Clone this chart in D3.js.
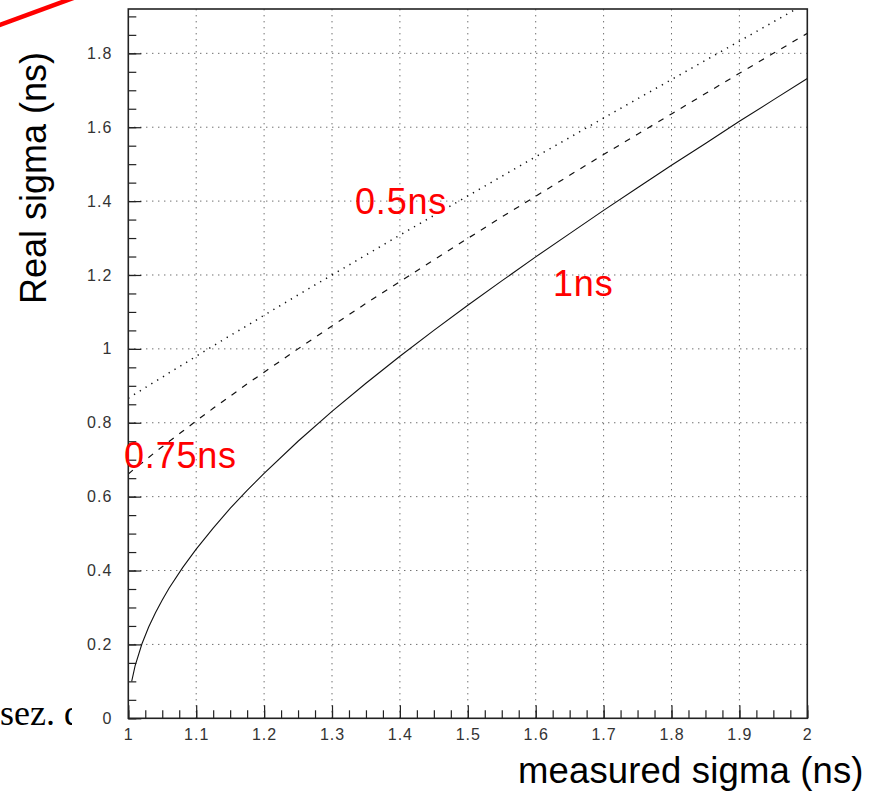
<!DOCTYPE html>
<html>
<head>
<meta charset="utf-8">
<script src="https://cdn.jsdelivr.net/npm/d3@7"></script>
<style>
  html, body { margin: 0; padding: 0; background: #fff; }
  svg { display: block; }
</style>
</head>
<body>
<div id="chart"></div>
<script>
// ---- data ----
const measured = [1.000, 1.005, 1.01, 1.02, 1.03, 1.04, 1.05, 1.06, 1.08, 1.10, 1.125, 1.15, 1.175, 1.20,
                  1.25, 1.30, 1.35, 1.40, 1.45, 1.50, 1.55, 1.60, 1.65, 1.70, 1.75, 1.80, 1.85, 1.90, 1.95, 2.00];
const real1ns   = [null, 0.100, 0.142, 0.201, 0.247, 0.286, 0.320, 0.352, 0.408, 0.458, 0.515, 0.568, 0.617, 0.663,
                   0.750, 0.831, 0.907, 0.980, 1.050, 1.118, 1.184, 1.249, 1.312, 1.375, 1.436, 1.497, 1.556, 1.616, 1.674, 1.732];
const real075ns = [0.661, 0.669, 0.677, 0.691, 0.706, 0.721, 0.735, 0.749, 0.777, 0.805, 0.839, 0.872, 0.905, 0.937,
                   1.000, 1.062, 1.123, 1.182, 1.241, 1.299, 1.357, 1.413, 1.470, 1.526, 1.581, 1.636, 1.691, 1.746, 1.800, 1.854];
const real05ns  = [0.866, 0.872, 0.878, 0.889, 0.901, 0.912, 0.923, 0.935, 0.957, 0.980, 1.008, 1.036, 1.063, 1.091,
                   1.146, 1.200, 1.254, 1.308, 1.361, 1.414, 1.467, 1.520, 1.572, 1.625, 1.677, 1.729, 1.781, 1.833, 1.885, 1.937];
const xTicks = [1, 1.1, 1.2, 1.3, 1.4, 1.5, 1.6, 1.7, 1.8, 1.9, 2];
const xTickLabels = ["1", "1.1", "1.2", "1.3", "1.4", "1.5", "1.6", "1.7", "1.8", "1.9", "2"];
const yTicks = [0, 0.2, 0.4, 0.6, 0.8, 1, 1.2, 1.4, 1.6, 1.8];
const yTickLabels = ["0", "0.2", "0.4", "0.6", "0.8", "1", "1.2", "1.4", "1.6", "1.8"];
const curveNames = ["1ns", "0.75ns", "0.5ns"];
const xTitle = "measured sigma (ns)";
const yTitle = "Real sigma (ns)";

// ---- layout ----
const W = 872, H = 795;
const L = 128.3, R = 807.3, T = 9, B = 718.3;

const svg = d3.select("#chart").append("svg").attr("width", W).attr("height", H);
svg.append("rect").attr("width", W).attr("height", H).attr("fill", "#fff");

// background slide fragments
svg.append("text").attr("x", 0).attr("y", 725)
  .attr("font-family", "'Liberation Serif', 'Times New Roman', serif")
  .attr("font-size", 36).attr("fill", "#000").text("sez. d");
svg.append("rect").attr("x", 72).attr("y", 690).attr("width", 60).attr("height", 50).attr("fill", "#fff");
svg.append("line").attr("x1", -6).attr("y1", 27).attr("x2", 76).attr("y2", -3)
  .attr("stroke", "#ff0000").attr("stroke-width", 4.5);

const x = d3.scaleLinear().domain([1, 2]).range([L, R]);
const y = d3.scaleLinear().domain([0, 1.92]).range([B, T]);

const fontAxis = "'Liberation Sans', Arial, sans-serif";

// grid
const grid = svg.append("g").attr("stroke", "#333").attr("stroke-width", 1).attr("stroke-dasharray", "1,5");
grid.selectAll("line.v").data(xTicks.slice(1, -1)).join("line")
  .attr("x1", d => x(d)).attr("x2", d => x(d)).attr("y1", B).attr("y2", T);
grid.selectAll("line.h").data(yTicks.slice(1)).join("line")
  .attr("x1", L).attr("x2", R).attr("y1", d => y(d)).attr("y2", d => y(d));

// axes
const xMinor = d3.range(0, 41).map(i => 1 + i * 0.025);
const yMinor = d3.range(0, 39).map(i => i * 0.05);

function styleAxis(g) {
  g.select(".domain").remove();
  g.selectAll(".tick line").attr("stroke", "#222").attr("stroke-width", 1.2);
  g.selectAll(".tick text").attr("fill", "#333").attr("font-family", fontAxis)
    .attr("font-size", 16).attr("letter-spacing", 1);
}

svg.append("g").attr("transform", `translate(0,${B})`)
  .call(d3.axisBottom(x).tickValues(xMinor).tickSize(-8).tickFormat(""))
  .call(styleAxis);
svg.append("g").attr("transform", `translate(0,${B})`)
  .call(d3.axisBottom(x).tickValues(xTicks).tickSize(-13).tickPadding(10)
    .tickFormat((d, i) => xTickLabels[i]))
  .call(styleAxis);
svg.append("g").attr("transform", `translate(${L},0)`)
  .call(d3.axisLeft(y).tickValues(yMinor).tickSize(-8).tickFormat(""))
  .call(styleAxis);
svg.append("g").attr("transform", `translate(${L},0)`)
  .call(d3.axisLeft(y).tickValues(yTicks).tickSize(-13).tickPadding(16)
    .tickFormat((d, i) => yTickLabels[i]))
  .call(styleAxis);

// clip
svg.append("clipPath").attr("id", "plotclip").append("rect")
  .attr("x", L).attr("y", T).attr("width", R - L).attr("height", B - T);

const line = d3.line()
  .defined(d => d[1] != null)
  .x(d => x(d[0])).y(d => y(d[1]));

const series = [
  { vals: real1ns, dash: null, w: 1.1 },
  { vals: real075ns, dash: "6,7", w: 1.2 },
  { vals: real05ns, dash: "1.3,5.5", w: 1.5 }
];
const curves = svg.append("g").attr("clip-path", "url(#plotclip)");
series.forEach(s => {
  curves.append("path")
    .attr("d", line(measured.map((m, i) => [m, s.vals[i]])))
    .attr("fill", "none").attr("stroke", "#111").attr("stroke-width", s.w)
    .attr("stroke-dasharray", s.dash);
});

// frame
svg.append("rect").attr("x", L).attr("y", T).attr("width", R - L).attr("height", B - T)
  .attr("fill", "none").attr("stroke", "#222").attr("stroke-width", 1.6);

// curve labels (red)
const labelPos = [
  { name: curveNames[0], mx: 1.6255, ry: 1.142 },
  { name: curveNames[1], mx: 0.9937, ry: 0.678 },
  { name: curveNames[2], mx: 1.3339, ry: 1.365 }
];
svg.append("g").selectAll("text").data(labelPos).join("text")
  .attr("x", d => x(d.mx)).attr("y", d => y(d.ry))
  .attr("font-family", fontAxis).attr("font-size", 36).attr("letter-spacing", 0.8)
  .attr("fill", "#ff0000")
  .text(d => d.name);

// axis titles
svg.append("text").attr("x", 518).attr("y", 783)
  .attr("font-family", fontAxis).attr("font-size", 36.5).attr("letter-spacing", 0.15).attr("fill", "#000")
  .text(xTitle);
svg.append("text").attr("transform", "translate(46,178) rotate(-90)")
  .attr("text-anchor", "middle")
  .attr("font-family", fontAxis).attr("font-size", 36).attr("fill", "#000")
  .text(yTitle);
</script>
</body>
</html>
